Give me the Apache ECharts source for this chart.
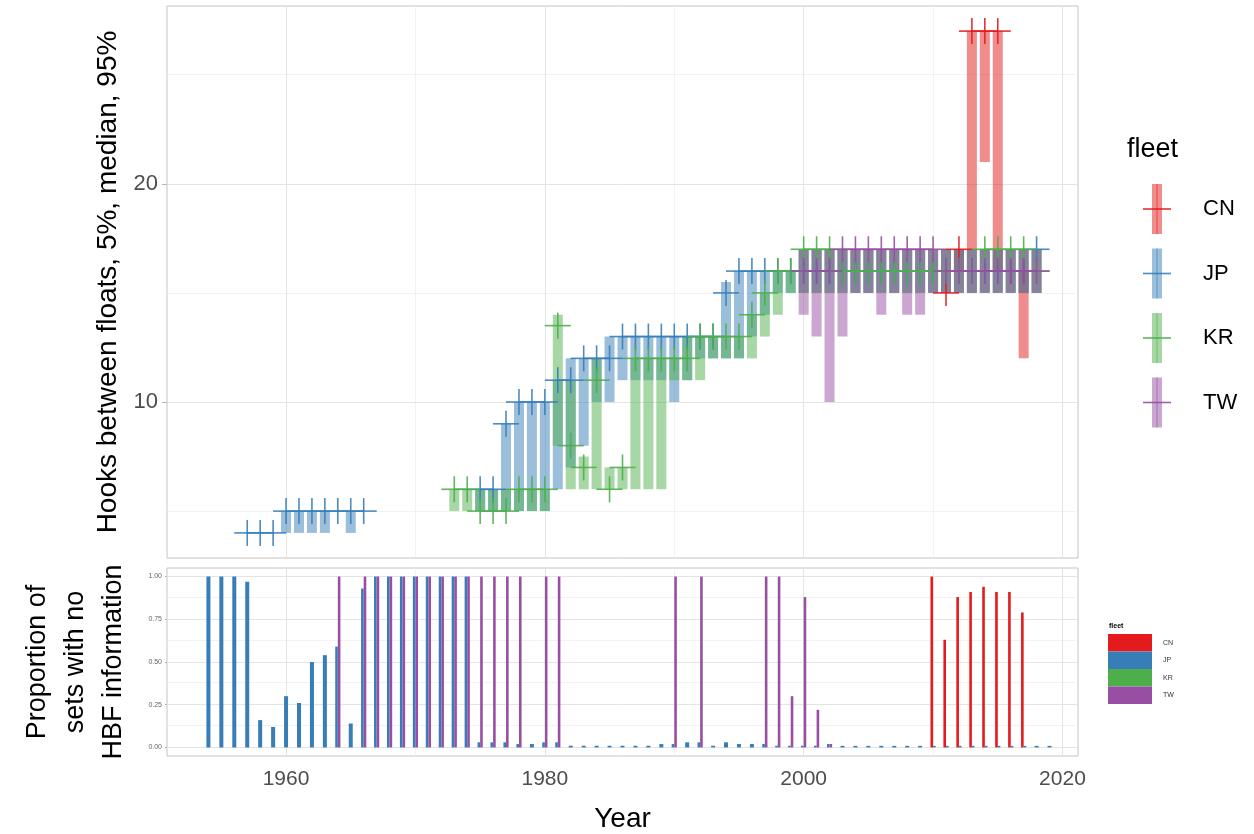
<!DOCTYPE html>
<html>
<head>
<meta charset="utf-8">
<script src="https://cdn.jsdelivr.net/npm/echarts@6/dist/echarts.min.js"></script>
<style>
  html, body { margin: 0; padding: 0; background: #ffffff; }
  #chart { width: 1254px; height: 834px; }
</style>
</head>
<body>
<div id="chart"></div>
<script>
// ---- Hooks between floats (HBF): 5% quantile, median, 95% quantile by fleet and year ----
const fleets = ['CN', 'JP', 'KR', 'TW'];
const fleetColors = { CN: '#E41A1C', JP: '#377EB8', KR: '#4DAF4A', TW: '#984EA3' };

const cnYears = [2011, 2012, 2013, 2014, 2015, 2016, 2017];
const cnQ05 = [15, 16, 17, 21, 16, 16, 12];
const cnMed = [15, 17, 27, 27, 27, 16, 16];
const cnQ95 = [15, 17, 27, 27, 27, 16, 16];

const jpYears = [1957, 1958, 1959, 1960, 1961, 1962, 1963, 1964, 1965, 1966,
  1975, 1976, 1977, 1978, 1979, 1980, 1981, 1982, 1983, 1984, 1985, 1986, 1987, 1988, 1989,
  1990, 1991, 1992, 1993, 1994, 1995, 1996, 1997, 1998, 1999,
  2000, 2001, 2002, 2003, 2004, 2005, 2006, 2007, 2008, 2009,
  2010, 2011, 2012, 2013, 2014, 2015, 2016, 2017, 2018];
const jpQ05 = [4, 4, 4, 4, 4, 4, 4, 5, 4, 5,
  5, 5, 5, 5, 5, 5, 6, 7, 8, 10, 10, 11, 11, 11, 11,
  10, 11, 12, 12, 12, 12, 13, 14, 15, 15,
  15, 15, 15, 15, 15, 15, 15, 15, 15, 15,
  15, 15, 15, 15, 15, 15, 15, 15, 15];
const jpMed = [4, 4, 4, 5, 5, 5, 5, 5, 5, 5,
  6, 6, 9, 10, 10, 10, 11, 11, 12, 12, 12, 13, 13, 13, 13,
  13, 13, 13, 13, 15, 16, 16, 16, 16, 16,
  16, 16, 16, 16, 16, 16, 16, 16, 16, 16,
  16, 16, 16, 16, 16, 16, 16, 16, 17];
const jpQ95 = [4, 4, 4, 5, 5, 5, 5, 5, 5, 5,
  6, 6, 9, 10, 10, 10, 11, 12, 12, 12, 13, 13, 13, 13, 13,
  13, 13, 13, 13, 15.5, 16, 16, 16, 16, 16,
  17, 17, 17, 17, 17, 17, 17, 17, 17, 17,
  17, 17, 17, 17, 17, 17, 17, 17, 17];

const krYears = [1973, 1974, 1975, 1976, 1977, 1978, 1979, 1980, 1981, 1982, 1983, 1984, 1985, 1986,
  1987, 1988, 1989, 1990, 1991, 1992, 1993, 1994, 1995, 1996, 1997, 1998, 1999,
  2000, 2001, 2002, 2003, 2004, 2005, 2006, 2007, 2008, 2009,
  2010, 2011, 2012, 2013, 2014, 2015, 2016, 2017, 2018];
const krQ05 = [5, 5, 5, 5, 5, 5, 5, 5, 8, 6, 6, 6, 6, 6,
  6, 6, 6, 11, 11, 11, 12, 12, 12, 12, 13, 14, 15,
  15, 15, 15, 15, 15, 15, 15, 15, 15, 15,
  15, 15, 15, 15, 15, 15, 15, 15, 15];
const krMed = [6, 6, 5, 5, 5, 6, 6, 6, 13.5, 8, 7, 11, 6, 7,
  12, 12, 12, 12, 12, 13, 13, 13, 13, 14, 15, 16, 16,
  17, 17, 17, 16, 16, 16, 16, 16, 16, 16,
  16, 16, 16, 16, 17, 17, 17, 17, 16];
const krQ95 = [6, 6, 6, 6, 6, 6, 6, 6, 14, 11, 7.5, 12, 7, 7,
  12, 12, 12, 12, 13, 13, 13, 13, 13, 14, 15, 16, 16,
  17, 17, 17, 17, 17, 17, 17, 17, 17, 17,
  17, 17, 17, 17, 17, 17, 17, 17, 17];

const twYears = [2000, 2001, 2002, 2003, 2004, 2005, 2006, 2007, 2008, 2009,
  2010, 2011, 2012, 2013, 2014, 2015, 2016, 2017, 2018];
const twQ05 = [14, 13, 10, 13, 15, 15, 14, 15, 14, 14, 15, 15, 15, 15, 15, 15, 15, 15, 15];
const twMed = [16, 16, 16, 17, 17, 17, 17, 17, 17, 17, 17, 16, 16, 16, 16, 16, 16, 16, 16];
const twQ95 = [17, 17, 17, 17, 17, 17, 17, 17, 17, 17, 17, 17, 17, 17, 17, 17, 17, 17, 17];

// ---- Proportion of sets with no HBF information ----
const cnNoHbfYears = [2010, 2011, 2012, 2013, 2014, 2015, 2016, 2017];
const cnNoHbf = [1.00, 0.63, 0.88, 0.91, 0.94, 0.91, 0.91, 0.79];

const jpNoHbfYears = [1954, 1955, 1956, 1957, 1958, 1959, 1960, 1961, 1962, 1963, 1964, 1965, 1966,
  1967, 1968, 1969, 1970, 1971, 1972, 1973, 1974, 1975, 1976, 1977, 1978, 1979, 1980, 1981,
  1982, 1983, 1984, 1985, 1986, 1987, 1988, 1989, 1990, 1991, 1992, 1993, 1994, 1995, 1996,
  1997, 1998, 1999, 2000, 2001, 2002, 2003, 2004, 2005, 2006, 2007, 2008, 2009, 2010, 2011,
  2012, 2013, 2014, 2015, 2016, 2017, 2018, 2019];
const jpNoHbf = [1.00, 1.00, 1.00, 0.97, 0.16, 0.12, 0.30, 0.26, 0.50, 0.54, 0.59, 0.14, 0.93,
  1.00, 1.00, 1.00, 1.00, 1.00, 1.00, 1.00, 1.00, 0.03, 0.03, 0.03, 0.02, 0.02, 0.03, 0.03,
  0.01, 0.01, 0.01, 0.01, 0.01, 0.01, 0.01, 0.02, 0.02, 0.03, 0.03, 0.01, 0.03, 0.02, 0.02,
  0.02, 0.01, 0.01, 0.01, 0.01, 0.02, 0.005, 0.005, 0.005, 0.005, 0.005, 0.005, 0.005, 0.005, 0.005,
  0.005, 0.005, 0.005, 0.005, 0.005, 0.005, 0.005, 0.005];

const twNoHbfYears = [1964, 1966, 1967, 1968, 1969, 1970, 1971, 1972, 1973, 1974, 1975, 1976, 1977,
  1978, 1980, 1981, 1990, 1992, 1997, 1998, 1999, 2000, 2001, 2002];
const twNoHbf = [1.00, 1.00, 1.00, 1.00, 1.00, 1.00, 1.00, 1.00, 1.00, 1.00, 1.00, 1.00, 1.00,
  1.00, 1.00, 1.00, 1.00, 1.00, 1.00, 1.00, 0.30, 0.88, 0.22, 0.02];

// ---- Axis breaks ----
const yearBreaks = [1960, 1980, 2000, 2020];
const yearMinorBreaks = [1970, 1990, 2010];
const hbfBreaks = [10, 20];
const hbfMinorBreaks = [5, 15, 25];
const propBreaks = [0, 0.25, 0.5, 0.75, 1];
const propMinorBreaks = [0.125, 0.375, 0.625, 0.875];

// ---------------------------------------------------------------
const FONT = '"Liberation Sans", Arial, Helvetica, sans-serif';

const hbfByFleet = {
  CN: cnYears.map((y, i) => [y, cnQ05[i], cnMed[i], cnQ95[i]]),
  JP: jpYears.map((y, i) => [y, jpQ05[i], jpMed[i], jpQ95[i]]),
  KR: krYears.map((y, i) => [y, krQ05[i], krMed[i], krQ95[i]]),
  TW: twYears.map((y, i) => [y, twQ05[i], twMed[i], twQ95[i]])
};

// proportion bars are dodged when several fleets share a year
const noHbfByFleet = { CN: [cnNoHbfYears, cnNoHbf], JP: [jpNoHbfYears, jpNoHbf], TW: [twNoHbfYears, twNoHbf] };
const fleetsPerYear = {};
fleets.forEach(f => {
  if (!noHbfByFleet[f]) return;
  noHbfByFleet[f][0].forEach(y => { (fleetsPerYear[y] = fleetsPerYear[y] || []).push(f); });
});
function noHbfItems(f) {
  const [years, vals] = noHbfByFleet[f];
  return years.map((y, i) => [y, vals[i], fleetsPerYear[y].indexOf(f), fleetsPerYear[y].length]);
}

// y range of the upper panel: data range expanded by 5% on each side
const allHbf = [].concat(cnQ05, cnQ95, jpQ05, jpQ95, krQ05, krQ95, twQ05, twQ95);
const hbfLo = Math.min.apply(null, allHbf), hbfHi = Math.max.apply(null, allHbf);
const hbfPad = (hbfHi - hbfLo) * 0.05;

function rangeRenderer(color) {
  return function (params, api) {
    const x = api.value(0);
    const lo = api.coord([x, api.value(1)]);
    const hi = api.coord([x, api.value(3)]);
    const w = 10;
    return {
      type: 'rect',
      shape: { x: lo[0] - w / 2, y: hi[1], width: w, height: Math.max(lo[1] - hi[1], 0) },
      style: { fill: color, opacity: 0.5 }
    };
  };
}
function medianRenderer(color) {
  return function (params, api) {
    const p = api.coord([api.value(0), api.value(2)]);
    const a = 13;
    const st = { stroke: color, lineWidth: 1.6, opacity: 0.9 };
    return {
      type: 'group',
      children: [
        { type: 'line', shape: { x1: p[0] - a, y1: p[1], x2: p[0] + a, y2: p[1] }, style: st },
        { type: 'line', shape: { x1: p[0], y1: p[1] - a, x2: p[0], y2: p[1] + a }, style: st }
      ]
    };
  };
}
function proportionRenderer(color) {
  return function (params, api) {
    const x = api.value(0);
    const idx = api.value(2), n = api.value(3);
    const top = api.coord([x, api.value(1)]);
    const base = api.coord([x, 0]);
    const w = n > 1 ? 2.6 : 4;
    const x0 = base[0] - (n * w) / 2 + idx * w;
    let h = base[1] - top[1];
    if (api.value(1) > 0) h = Math.max(h, 1.6);
    return { type: 'rect', shape: { x: x0, y: base[1] - h, width: w, height: h }, style: { fill: color } };
  };
}

function gridLines(xMajor, xMinor, yMajor, yMinor) {
  const major = { color: '#e4e4e4', width: 1, type: 'solid' };
  const minor = { color: '#efefef', width: 0.8, type: 'solid' };
  return [].concat(
    xMinor.map(v => ({ xAxis: v, lineStyle: minor })),
    yMinor.map(v => ({ yAxis: v, lineStyle: minor })),
    xMajor.map(v => ({ xAxis: v, lineStyle: major })),
    yMajor.map(v => ({ yAxis: v, lineStyle: major }))
  );
}

const series = [];
// background grid lines for both panels
series.push({
  type: 'line', xAxisIndex: 0, yAxisIndex: 0, data: [], silent: true, z: 1,
  markLine: { silent: true, symbol: 'none', z: 1, animation: false, label: { show: false },
    data: gridLines(yearBreaks, yearMinorBreaks, hbfBreaks, hbfMinorBreaks) }
});
series.push({
  type: 'line', xAxisIndex: 1, yAxisIndex: 1, data: [], silent: true, z: 1,
  markLine: { silent: true, symbol: 'none', z: 1, animation: false, label: { show: false },
    data: gridLines(yearBreaks, yearMinorBreaks, propBreaks, propMinorBreaks) }
});
// 5%-95% ranges
fleets.forEach(f => {
  series.push({
    type: 'custom', name: f + ' range', xAxisIndex: 0, yAxisIndex: 0, z: 3, clip: true,
    renderItem: rangeRenderer(fleetColors[f]), encode: { x: 0, y: [1, 3] },
    data: hbfByFleet[f]
  });
});
// medians
fleets.forEach(f => {
  series.push({
    type: 'custom', name: f + ' median', xAxisIndex: 0, yAxisIndex: 0, z: 4, clip: true,
    renderItem: medianRenderer(fleetColors[f]), encode: { x: 0, y: 2 },
    data: hbfByFleet[f]
  });
});
// proportion of sets without HBF
fleets.forEach(f => {
  if (!noHbfByFleet[f]) return;
  series.push({
    type: 'custom', name: f + ' no HBF', xAxisIndex: 1, yAxisIndex: 1, z: 3, clip: true,
    renderItem: proportionRenderer(fleetColors[f]), encode: { x: 0, y: 1 },
    data: noHbfItems(f)
  });
});

// legends
const graphic = [];
graphic.push({ type: 'text', x: 1127, y: 150, silent: true,
  style: { text: 'fleet', fill: '#000', fontSize: 27, fontFamily: FONT, align: 'left', verticalAlign: 'middle' } });
fleets.forEach((f, i) => {
  const cy = 209 + i * 64.5;
  const c = fleetColors[f];
  graphic.push({ type: 'rect', silent: true, shape: { x: 1152, y: cy - 25, width: 10, height: 50 }, style: { fill: c, opacity: 0.5 } });
  graphic.push({ type: 'line', silent: true, shape: { x1: 1157, y1: cy - 25, x2: 1157, y2: cy + 25 }, style: { stroke: c, lineWidth: 1, opacity: 0.6 } });
  graphic.push({ type: 'line', silent: true, shape: { x1: 1143, y1: cy, x2: 1171, y2: cy }, style: { stroke: c, lineWidth: 1.6, opacity: 0.9 } });
  graphic.push({ type: 'text', silent: true, x: 1203, y: cy,
    style: { text: f, fill: '#000', fontSize: 22, fontFamily: FONT, align: 'left', verticalAlign: 'middle' } });
});
graphic.push({ type: 'text', x: 1109, y: 626, silent: true,
  style: { text: 'fleet', fill: '#000', fontSize: 7, fontWeight: 'bold', fontFamily: FONT, align: 'left', verticalAlign: 'middle' } });
fleets.forEach((f, i) => {
  const y0 = 634 + i * 17.5;
  graphic.push({ type: 'rect', silent: true, shape: { x: 1108, y: y0, width: 44, height: 17.5 }, style: { fill: fleetColors[f] } });
  graphic.push({ type: 'text', silent: true, x: 1163, y: y0 + 8.75,
    style: { text: f, fill: '#333', fontSize: 7, fontFamily: FONT, align: 'left', verticalAlign: 'middle' } });
});

const option = {
  animation: false,
  backgroundColor: '#ffffff',
  textStyle: { fontFamily: FONT },
  grid: [
    { left: 167, top: 6, width: 911, height: 552, show: true, borderColor: '#c4c4c4', borderWidth: 1, backgroundColor: '#ffffff' },
    { left: 167, top: 568, width: 911, height: 191, show: true, borderColor: '#c4c4c4', borderWidth: 1, backgroundColor: '#ffffff' }
  ],
  xAxis: [
    { type: 'value', gridIndex: 0, min: 1950.8, max: 2021.2,
      axisLine: { show: false }, axisTick: { show: false }, axisLabel: { show: false }, splitLine: { show: false } },
    { type: 'value', gridIndex: 1, min: 1950.8, max: 2021.2,
      axisLine: { show: false },
      axisTick: { show: true, customValues: yearBreaks, length: 5, lineStyle: { color: '#b3b3b3' } },
      axisLabel: { customValues: yearBreaks, fontSize: 21, color: '#4d4d4d', margin: 13, fontFamily: FONT,
        formatter: v => String(v) },
      splitLine: { show: false },
      name: 'Year', nameLocation: 'middle', nameGap: 49,
      nameTextStyle: { fontSize: 28, color: '#000', fontFamily: FONT } }
  ],
  yAxis: [
    { type: 'value', gridIndex: 0, min: hbfLo - hbfPad, max: hbfHi + hbfPad,
      axisLine: { show: false },
      axisTick: { show: true, customValues: hbfBreaks, length: 5, lineStyle: { color: '#b3b3b3' } },
      axisLabel: { customValues: hbfBreaks, fontSize: 22, color: '#4d4d4d', margin: 9, fontFamily: FONT,
        formatter: v => String(v) },
      splitLine: { show: false },
      name: 'Hooks between floats, 5%, median, 95%', nameLocation: 'middle', nameGap: 45,
      nameTextStyle: { fontSize: 28, color: '#000', fontFamily: FONT } },
    { type: 'value', gridIndex: 1, min: -0.05, max: 1.05,
      axisLine: { show: false },
      axisTick: { show: true, customValues: propBreaks, length: 2, lineStyle: { color: '#b3b3b3' } },
      axisLabel: { customValues: propBreaks, fontSize: 7, color: '#666', margin: 5, fontFamily: FONT,
        formatter: v => Number(v).toFixed(2) },
      splitLine: { show: false },
      name: 'Proportion of\nsets with no\nHBF information', nameLocation: 'middle', nameGap: 34,
      nameTextStyle: { fontSize: 27, lineHeight: 38, color: '#000', fontFamily: FONT } }
  ],
  graphic: graphic,
  series: series
};

const chart = echarts.init(document.getElementById('chart'), null, { renderer: 'canvas' });
chart.setOption(option);
</script>
</body>
</html>
